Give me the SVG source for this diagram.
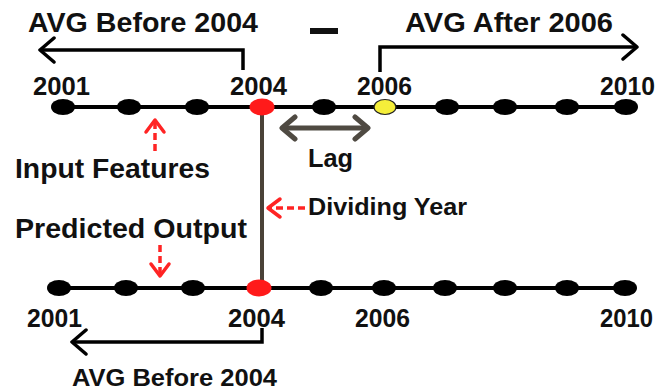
<svg xmlns="http://www.w3.org/2000/svg" width="660" height="392" viewBox="0 0 660 392">
  <defs>
    <style>
      .lbl { font-family: "Liberation Sans", Arial, sans-serif; font-weight: bold; fill: #111; }
      .yr { font-size: 25px; }
      .big { font-size: 28px; }
      .axis { stroke: #000; stroke-width: 4; fill: none; }
      .dot { fill: #000; }
      .span { stroke: #000; stroke-width: 3.5; fill: none; }
      .lag { stroke: #4f4a42; stroke-width: 5; fill: none; }
      .hint { stroke: #ff2424; stroke-width: 3.5; stroke-dasharray: 7 4; fill: none; }
    </style>
    <marker id="chev" markerUnits="userSpaceOnUse" markerWidth="24" markerHeight="28" refX="18" refY="14" orient="auto-start-reverse">
      <path d="M4,2 L18,14 L4,26" fill="none" stroke="#000" stroke-width="3.5" stroke-linecap="round" stroke-linejoin="round"/>
    </marker>
    <marker id="chevLag" markerUnits="userSpaceOnUse" markerWidth="24" markerHeight="28" refX="18" refY="14" orient="auto-start-reverse">
      <path d="M5,3 L18,14 L5,25" fill="none" stroke="#4f4a42" stroke-width="5" stroke-linecap="round" stroke-linejoin="round"/>
    </marker>
    <marker id="chevRed" markerUnits="userSpaceOnUse" markerWidth="22" markerHeight="24" refX="15" refY="12" orient="auto">
      <path d="M3,3 L15,12 L3,21" fill="none" stroke="#ff2424" stroke-width="3.5" stroke-linecap="round" stroke-linejoin="round"/>
    </marker>
  </defs>

  <rect width="660" height="392" fill="#fff"/>

  <!-- headline labels -->
  <g id="label-avg-before-top">
    <text class="lbl big" x="28" y="32" textLength="230" lengthAdjust="spacingAndGlyphs">AVG Before 2004</text>
  </g>
  <g id="minus-sign">
    <rect x="310" y="28" width="28" height="6" fill="#111"/>
  </g>
  <g id="label-avg-after">
    <text class="lbl big" x="405" y="32" textLength="208" lengthAdjust="spacingAndGlyphs">AVG After 2006</text>
  </g>

  <g id="connectors">
    <!-- averaging spans -->
    <path class="span" d="M243,70 V50 H40" marker-end="url(#chev)"/>
    <path class="span" d="M380,72 V47 H637" marker-end="url(#chev)"/>
    <path class="span" d="M262,328 V342 H72" marker-end="url(#chev)"/>
    <!-- dividing year link between timelines -->
    <line x1="262" y1="107" x2="262" y2="288" stroke="#4a4238" stroke-width="4"/>
    <!-- lag -->
    <line class="lag" x1="282" y1="128" x2="368" y2="128" marker-start="url(#chevLag)" marker-end="url(#chevLag)"/>
    <!-- pointers -->
    <path class="hint" d="M155,151 V120" marker-end="url(#chevRed)"/>
    <path class="hint" d="M160,245 V276" marker-end="url(#chevRed)"/>
    <path class="hint" d="M305,208 H268" marker-end="url(#chevRed)"/>
  </g>

  <!-- timeline of input years -->
  <g id="timeline-input">
    <line class="axis" x1="52" y1="107" x2="628" y2="107"/>
    <ellipse class="dot" cx="63" cy="107" rx="12" ry="8"/>
    <ellipse class="dot" cx="129" cy="107" rx="12" ry="8"/>
    <ellipse class="dot" cx="197" cy="107" rx="12" ry="8"/>
    <ellipse cx="262" cy="107" rx="12.5" ry="8.5" fill="#ff1a1a"/>
    <ellipse class="dot" cx="324" cy="107" rx="12" ry="8"/>
    <ellipse cx="385" cy="107" rx="11" ry="7.5" fill="#f5ee3a" stroke="#222" stroke-width="1.2"/>
    <ellipse class="dot" cx="447" cy="107" rx="12" ry="8"/>
    <ellipse class="dot" cx="505" cy="107" rx="12" ry="8"/>
    <ellipse class="dot" cx="567" cy="107" rx="12" ry="8"/>
    <ellipse class="dot" cx="626" cy="107" rx="12" ry="8"/>
    <text class="lbl yr" x="33" y="95" textLength="57" lengthAdjust="spacingAndGlyphs">2001</text>
    <text class="lbl yr" x="230" y="95" textLength="57" lengthAdjust="spacingAndGlyphs">2004</text>
    <text class="lbl yr" x="357" y="95" textLength="55" lengthAdjust="spacingAndGlyphs">2006</text>
    <text class="lbl yr" x="600" y="95" textLength="55" lengthAdjust="spacingAndGlyphs">2010</text>
  </g>

  <!-- timeline of predicted years -->
  <g id="timeline-output">
    <line class="axis" x1="48" y1="288" x2="626" y2="288"/>
    <ellipse class="dot" cx="59" cy="288" rx="12" ry="8"/>
    <ellipse class="dot" cx="126" cy="288" rx="12" ry="8"/>
    <ellipse class="dot" cx="193" cy="288" rx="12" ry="8"/>
    <ellipse cx="259" cy="288" rx="12.5" ry="8.5" fill="#ff1a1a"/>
    <ellipse class="dot" cx="321" cy="288" rx="12" ry="8"/>
    <ellipse class="dot" cx="384" cy="288" rx="12" ry="8"/>
    <ellipse class="dot" cx="445" cy="288" rx="12" ry="8"/>
    <ellipse class="dot" cx="505" cy="288" rx="12" ry="8"/>
    <ellipse class="dot" cx="567" cy="288" rx="12" ry="8"/>
    <ellipse class="dot" cx="625" cy="288" rx="12" ry="8"/>
    <text class="lbl yr" x="27" y="327" textLength="55" lengthAdjust="spacingAndGlyphs">2001</text>
    <text class="lbl yr" x="228" y="327" textLength="57" lengthAdjust="spacingAndGlyphs">2004</text>
    <text class="lbl yr" x="355" y="327" textLength="55" lengthAdjust="spacingAndGlyphs">2006</text>
    <text class="lbl yr" x="600" y="327" textLength="53" lengthAdjust="spacingAndGlyphs">2010</text>
  </g>

  <g id="label-input-features">
    <text class="lbl big" x="15" y="178" textLength="195" lengthAdjust="spacingAndGlyphs">Input Features</text>
  </g>
  <g id="label-predicted-output">
    <text class="lbl big" x="15" y="238" textLength="232" lengthAdjust="spacingAndGlyphs">Predicted Output</text>
  </g>
  <g id="label-lag">
    <text class="lbl" font-size="26" x="308" y="167" textLength="45" lengthAdjust="spacingAndGlyphs">Lag</text>
  </g>
  <g id="label-dividing-year">
    <text class="lbl" font-size="24" x="308" y="215" textLength="159" lengthAdjust="spacingAndGlyphs">Dividing Year</text>
  </g>
  <g id="label-avg-before-bottom">
    <text class="lbl" font-size="24" x="72" y="386" textLength="205" lengthAdjust="spacingAndGlyphs">AVG Before 2004</text>
  </g>
</svg>
